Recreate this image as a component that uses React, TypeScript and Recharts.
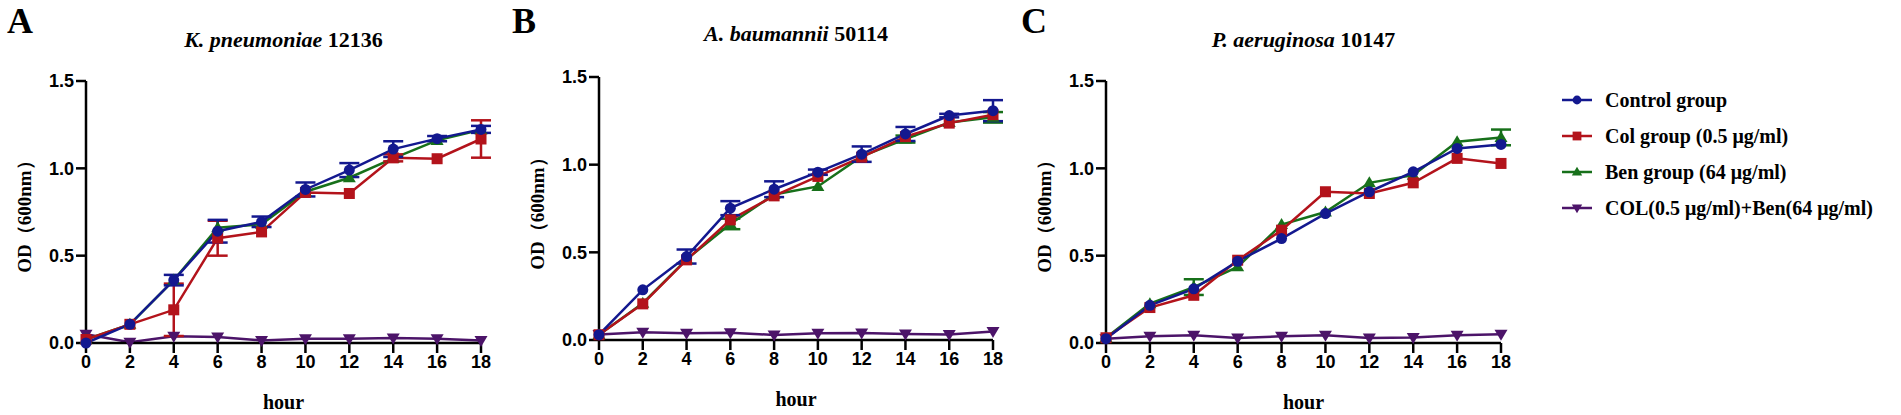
import React from "react";
import { LineChart, Line, XAxis, YAxis, ErrorBar } from "recharts";

const hours = [0, 2, 4, 6, 8, 10, 12, 14, 16, 18];
const xTicks = [0, 2, 4, 6, 8, 10, 12, 14, 16, 18];
const yTicks = [0, 0.5, 1.0, 1.5];

const groupNames = [
  "Control group",
  "Col group (0.5 μg/ml)",
  "Ben group (64 μg/ml)",
  "COL(0.5 μg/ml)+Ben(64 μg/ml)",
];

// K. pneumoniae 12136
const kpControl = [0.0, 0.107, 0.36, 0.64, 0.694, 0.879, 0.99, 1.11, 1.17, 1.223];
const kpControlErr = [0, 0, 0.03, 0.065, 0.03, 0.04, 0.04, 0.045, 0.015, 0.02];
const kpCol = [0.02, 0.107, 0.19, 0.6, 0.636, 0.862, 0.856, 1.06, 1.055, 1.168];
const kpColErr = [0, 0, 0.15, 0.1, 0, 0, 0, 0.02, 0, 0.107];
const kpBen = [0.02, 0.107, 0.36, 0.66, 0.68, 0.866, 0.946, 1.057, 1.16, 1.22];
const kpBenErr = [0, 0, 0, 0, 0, 0, 0, 0, 0, 0];
const kpCombo = [0.05, 0.005, 0.038, 0.034, 0.015, 0.025, 0.025, 0.029, 0.025, 0.015];
const kpComboErr = [0, 0, 0, 0, 0, 0, 0, 0, 0, 0];

// A. baumannii 50114
const abControl = [0.03, 0.286, 0.476, 0.752, 0.86, 0.957, 1.06, 1.175, 1.28, 1.308];
const abControlErr = [0, 0, 0.04, 0.04, 0.045, 0.015, 0.044, 0.04, 0.01, 0.06];
const abCol = [0.03, 0.206, 0.457, 0.685, 0.822, 0.933, 1.043, 1.16, 1.237, 1.285];
const abColErr = [0, 0, 0, 0, 0, 0, 0, 0, 0, 0];
const abBen = [0.03, 0.21, 0.46, 0.662, 0.83, 0.876, 1.047, 1.146, 1.24, 1.27];
const abBenErr = [0, 0, 0, 0.03, 0, 0, 0, 0.02, 0, 0.03];
const abCombo = [0.032, 0.044, 0.038, 0.042, 0.029, 0.038, 0.04, 0.034, 0.032, 0.048];
const abComboErr = [0, 0, 0, 0, 0, 0, 0, 0, 0, 0];

// P. aeruginosa 10147
const paControl = [0.025, 0.216, 0.31, 0.468, 0.598, 0.741, 0.866, 0.98, 1.114, 1.137];
const paControlErr = [0, 0, 0, 0, 0, 0, 0, 0, 0, 0];
const paCol = [0.03, 0.203, 0.273, 0.474, 0.646, 0.866, 0.856, 0.917, 1.057, 1.028];
const paColErr = [0, 0, 0, 0, 0, 0, 0, 0, 0, 0];
const paBen = [0.03, 0.225, 0.32, 0.436, 0.678, 0.75, 0.917, 0.961, 1.152, 1.177];
const paBenErr = [0, 0, 0.045, 0, 0, 0, 0, 0, 0, 0.045];
const paCombo = [0.025, 0.038, 0.044, 0.029, 0.038, 0.044, 0.029, 0.031, 0.044, 0.05];
const paComboErr = [0, 0, 0, 0, 0, 0, 0, 0, 0, 0];

const BLUE = "#13188f";
const RED = "#b3131b";
const GREEN = "#17701a";
const PURPLE = "#4c1469";

const serif = "'Liberation Serif', 'Times New Roman', serif";
const sans = "'Liberation Sans', Arial, sans-serif";

type Series = { values: number[]; errs: number[] };

function buildRows(control: Series, col: Series, ben: Series, combo: Series) {
  return hours.map((h, i) => ({
    hour: h,
    control: control.values[i],
    controlErr: control.errs[i],
    col: col.values[i],
    colErr: col.errs[i],
    ben: ben.values[i],
    benErr: ben.errs[i],
    combo: combo.values[i],
    comboErr: combo.errs[i],
  }));
}

function Marker({ shape, cx, cy, color, s }: { shape: string; cx: number; cy: number; color: string; s: number }) {
  if (shape === "circle") return <circle cx={cx} cy={cy} r={s * 0.55} fill={color} />;
  if (shape === "square")
    return <rect x={cx - s * 0.55} y={cy - s * 0.55} width={s * 1.1} height={s * 1.1} fill={color} />;
  if (shape === "up")
    return (
      <polygon
        points={`${cx},${cy - s * 0.65} ${cx + s * 0.65},${cy + s * 0.45} ${cx - s * 0.65},${cy + s * 0.45}`}
        fill={color}
      />
    );
  return (
    <polygon
      points={`${cx},${cy + s * 0.65} ${cx + s * 0.65},${cy - s * 0.45} ${cx - s * 0.65},${cy - s * 0.45}`}
      fill={color}
    />
  );
}

const dotFor = (shape: string, color: string) => (props: any) => (
  <Marker key={`${shape}-${props.index}`} shape={shape} cx={props.cx} cy={props.cy} color={color} s={10} />
);

interface PanelProps {
  letter: string;
  letterX: number;
  italic: string;
  strain: string;
  titleY: number;
  plotLeft: number;
  plotTop: number;
  plotW: number;
  plotH: number;
  rows: ReturnType<typeof buildRows>;
}

function Panel({ letter, letterX, italic, strain, titleY, plotLeft, plotTop, plotW, plotH, rows }: PanelProps) {
  const chartLeft = plotLeft - 70;
  const chartW = plotW + 90;
  const centerX = plotLeft + plotW / 2;
  const tickStyle = { fill: "#000", fontSize: 18, fontWeight: 700, fontFamily: sans };
  const series = [
    { key: "combo", color: PURPLE, shape: "down" },
    { key: "ben", color: GREEN, shape: "up" },
    { key: "col", color: RED, shape: "square" },
    { key: "control", color: BLUE, shape: "circle" },
  ];
  return (
    <>
      <div
        style={{
          position: "absolute",
          left: letterX,
          top: 0,
          fontFamily: serif,
          fontWeight: 700,
          fontSize: 36,
          lineHeight: "normal",
        }}
      >
        {letter}
      </div>
      <div
        style={{
          position: "absolute",
          left: centerX - 200,
          width: 400,
          top: titleY - 13,
          textAlign: "center",
          fontFamily: serif,
          fontWeight: 700,
          fontSize: 22,
          lineHeight: "26px",
        }}
      >
        <span style={{ fontStyle: "italic" }}>{italic}</span> {strain}
      </div>
      <div
        style={{
          position: "absolute",
          left: plotLeft - 61 - 100,
          width: 200,
          top: plotTop + plotH / 2 - 12,
          textAlign: "center",
          transform: "rotate(-90deg)",
          transformOrigin: "100px 12px",
          fontFamily: serif,
          fontWeight: 700,
          fontSize: 19,
          lineHeight: "24px",
        }}
      >
        OD（600nm）
      </div>
      <div
        style={{
          position: "absolute",
          left: centerX - 100,
          width: 200,
          top: plotTop + plotH + 47,
          textAlign: "center",
          fontFamily: serif,
          fontWeight: 700,
          fontSize: 20,
          lineHeight: "24px",
        }}
      >
        hour
      </div>
      <div style={{ position: "absolute", left: chartLeft, top: 0 }}>
        <LineChart
          width={chartW}
          height={415}
          data={rows}
          margin={{ top: plotTop, right: 20, left: 10, bottom: 415 - plotTop - plotH - 30 }}
        >
          <XAxis
            dataKey="hour"
            type="number"
            domain={[0, 18]}
            ticks={xTicks}
            height={30}
            tick={tickStyle}
            tickSize={10}
            tickMargin={2}
            axisLine={{ stroke: "#000", strokeWidth: 2.5 }}
            tickLine={{ stroke: "#000", strokeWidth: 2.5 }}
          />
          <YAxis
            type="number"
            domain={[0, 1.5]}
            ticks={yTicks}
            width={60}
            tick={tickStyle}
            tickFormatter={(v: number) => v.toFixed(1)}
            tickSize={10}
            tickMargin={2}
            axisLine={{ stroke: "#000", strokeWidth: 2.5 }}
            tickLine={{ stroke: "#000", strokeWidth: 2.5 }}
          />
          {series.map((s) => (
            <Line
              key={s.key}
              dataKey={s.key}
              stroke={s.color}
              strokeWidth={2.5}
              isAnimationActive={false}
              dot={dotFor(s.shape, s.color)}
              activeDot={false}
            >
              <ErrorBar dataKey={`${s.key}Err`} width={10} strokeWidth={2.5} stroke={s.color} direction="y" />
            </Line>
          ))}
        </LineChart>
      </div>
    </>
  );
}

function Legend() {
  const items = [
    { color: BLUE, shape: "circle" },
    { color: RED, shape: "square" },
    { color: GREEN, shape: "up" },
    { color: PURPLE, shape: "down" },
  ];
  return (
    <>
      {items.map((it, i) => (
        <div
          key={groupNames[i]}
          style={{ position: "absolute", left: 1561, top: 100 + i * 36 - 14, height: 28, display: "flex", alignItems: "center" }}
        >
          <svg width={32} height={20}>
            <line x1={1} y1={10} x2={31} y2={10} stroke={it.color} strokeWidth={2.5} />
            <Marker shape={it.shape} cx={16} cy={10} color={it.color} s={8} />
          </svg>
          <span
            style={{
              marginLeft: 12,
              fontFamily: serif,
              fontWeight: 700,
              fontSize: 20,
              whiteSpace: "nowrap",
            }}
          >
            {groupNames[i]}
          </span>
        </div>
      ))}
    </>
  );
}

export default function App() {
  const kpRows = buildRows(
    { values: kpControl, errs: kpControlErr },
    { values: kpCol, errs: kpColErr },
    { values: kpBen, errs: kpBenErr },
    { values: kpCombo, errs: kpComboErr }
  );
  const abRows = buildRows(
    { values: abControl, errs: abControlErr },
    { values: abCol, errs: abColErr },
    { values: abBen, errs: abBenErr },
    { values: abCombo, errs: abComboErr }
  );
  const paRows = buildRows(
    { values: paControl, errs: paControlErr },
    { values: paCol, errs: paColErr },
    { values: paBen, errs: paBenErr },
    { values: paCombo, errs: paComboErr }
  );
  return (
    <div style={{ position: "absolute", left: 0, top: 0, width: 1901, height: 415, background: "#fff", overflow: "hidden" }}>
      <Panel letter="A" letterX={7} italic="K. pneumoniae" strain="12136" titleY={40} plotLeft={86} plotTop={81} plotW={395} plotH={262} rows={kpRows} />
      <Panel letter="B" letterX={512} italic="A. baumannii" strain="50114" titleY={34} plotLeft={599} plotTop={77} plotW={394} plotH={263} rows={abRows} />
      <Panel letter="C" letterX={1021} italic="P. aeruginosa" strain="10147" titleY={40} plotLeft={1106} plotTop={81} plotW={395} plotH={262} rows={paRows} />
      <Legend />
    </div>
  );
}
